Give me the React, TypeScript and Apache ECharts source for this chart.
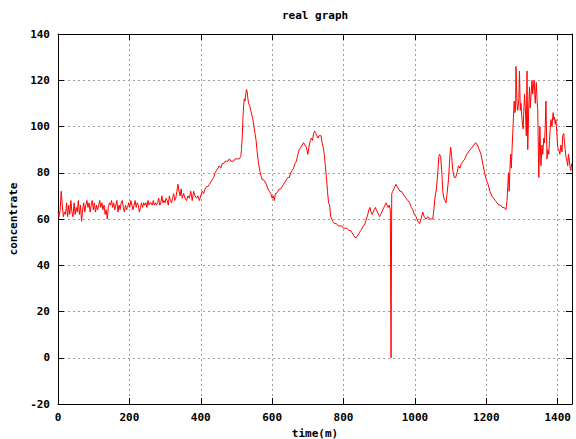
import React, { useEffect, useRef } from "react";
import * as echarts from "echarts";

// [minute, concentration] readings, split by part of the day
const nightReadings: [number, number][] = [
  [0, 63], [3, 61], [6, 64], [9, 72], [12, 66], [15, 61], [18, 63], [21, 62], [24, 67], [27, 61],
  [30, 66], [33, 62], [36, 68], [39, 63], [42, 61], [45, 67], [48, 62], [51, 65], [54, 63], [57, 68],
  [60, 62], [63, 66], [66, 59], [69, 64], [72, 67], [75, 63], [78, 66], [81, 68], [84, 65], [87, 67],
  [90, 63], [93, 66], [96, 68], [99, 64], [102, 67], [105, 63], [108, 66], [111, 64], [114, 66], [117, 68],
  [120, 65], [123, 67], [126, 64], [129, 66], [132, 62], [135, 64], [138, 60], [141, 65], [144, 67], [147, 66],
  [150, 68], [153, 65], [156, 67], [159, 64], [162, 66], [165, 68], [168, 63], [171, 66], [174, 64], [177, 67],
  [180, 68], [183, 65], [186, 63], [189, 66], [192, 64], [195, 65], [198, 67], [201, 65], [204, 68], [207, 66],
  [210, 64], [213, 66], [216, 68], [219, 65], [222, 67], [225, 66], [228, 63], [231, 65], [234, 67], [237, 65],
  [240, 67], [243, 66], [246, 67], [249, 65], [252, 68], [255, 66], [258, 67], [261, 67], [264, 66], [267, 68],
  [270, 66], [273, 67], [276, 66], [279, 67], [282, 69], [285, 66], [288, 67], [291, 70], [294, 67], [297, 68],
  [300, 67], [303, 69], [306, 68], [309, 66], [312, 70], [315, 68], [318, 67], [321, 69], [324, 71], [327, 68],
  [330, 69], [333, 72], [336, 75], [339, 72], [342, 70], [345, 73],
];

const morningReadings: [number, number][] = [
  [348, 69], [352, 71], [356, 69], [360, 68], [364, 70], [368, 69], [372, 72], [376, 68], [380, 72], [384, 70],
  [388, 69], [392, 70], [396, 68], [400, 70], [404, 72], [408, 71], [412, 73], [416, 74], [420, 74], [424, 75],
  [428, 76], [432, 77], [436, 78], [440, 80], [444, 81], [448, 82], [452, 83], [456, 82], [460, 84], [464, 84],
  [468, 85], [472, 85], [476, 85], [480, 86], [484, 85], [488, 85], [492, 85], [496, 86], [500, 86], [504, 86],
  [508, 86], [512, 87], [514, 90], [516, 95], [518, 103], [520, 109], [522, 112], [524, 111], [526, 114], [528, 116],
  [530, 115], [532, 112], [534, 110], [537, 109], [540, 107], [543, 105], [546, 103], [549, 100], [552, 97], [555, 94],
  [558, 89], [561, 85], [564, 82], [568, 79], [572, 77], [576, 77], [580, 76], [584, 75], [588, 73], [592, 72],
  [596, 71], [600, 69], [603, 70], [606, 68], [609, 71], [612, 71], [616, 72], [620, 73], [624, 73], [628, 74],
  [632, 75], [636, 76], [640, 77], [644, 78], [648, 78], [652, 80], [656, 81], [660, 82], [664, 84], [668, 85],
  [672, 88], [676, 90], [680, 91], [684, 92], [688, 93], [692, 92], [696, 91], [700, 88], [704, 92], [707, 94],
  [710, 95], [713, 94], [716, 97], [719, 98], [722, 97], [725, 96], [728, 95], [731, 96], [734, 96], [737, 96],
  [740, 93], [743, 91], [746, 88], [749, 83], [752, 78], [755, 72], [758, 67], [761, 66], [764, 61], [767, 60],
  [770, 59], [775, 58], [780, 58], [785, 57], [790, 57], [795, 57], [800, 56], [805, 56], [810, 56], [815, 55],
];

const afternoonReadings: [number, number][] = [
  [820, 55], [824, 54], [828, 53], [832, 52], [836, 52], [840, 53], [844, 54], [848, 55], [852, 56], [856, 57],
  [860, 58], [864, 60], [868, 62], [871, 64], [874, 65], [877, 63], [880, 62], [883, 63], [886, 64], [889, 65],
  [892, 64], [895, 63], [898, 62], [901, 61], [904, 62], [907, 63], [910, 64], [913, 65], [916, 66], [919, 67],
  [922, 66], [925, 65], [928, 66], [931, 64], [933, 0], [935, 71], [938, 72], [941, 73], [944, 74], [947, 75],
  [950, 74], [954, 73], [958, 72], [962, 72], [966, 71], [970, 70], [975, 69], [980, 68], [985, 67], [990, 65],
  [994, 64], [998, 62], [1003, 61], [1008, 59], [1013, 58], [1017, 60], [1022, 63], [1026, 61], [1031, 60], [1036, 61],
  [1041, 60], [1045, 60], [1050, 60], [1053, 64], [1056, 69], [1060, 73], [1064, 80], [1067, 87], [1069, 88], [1072, 87],
  [1075, 81], [1078, 72], [1081, 69], [1084, 68], [1087, 67], [1090, 71], [1094, 77], [1097, 85], [1100, 91], [1103, 87],
  [1106, 81], [1110, 78], [1114, 78], [1118, 80], [1122, 83], [1126, 82], [1130, 84], [1135, 85], [1140, 86], [1145, 88],
  [1150, 89], [1155, 90], [1160, 91], [1165, 92], [1170, 93], [1175, 92], [1180, 90], [1185, 88], [1190, 84], [1195, 80],
  [1200, 77], [1205, 75], [1210, 72], [1215, 70], [1220, 69], [1225, 68], [1230, 67], [1235, 66], [1240, 66], [1245, 65],
  [1250, 65], [1255, 64],
];

const eveningReadings: [number, number][] = [
  [1258, 68], [1260, 74], [1262, 80], [1264, 72], [1266, 81], [1268, 88], [1270, 82], [1272, 90], [1274, 97], [1276, 104],
  [1278, 111], [1280, 106], [1282, 107], [1283, 126], [1286, 110], [1288, 107], [1291, 112], [1293, 124], [1295, 107], [1297, 110],
  [1300, 103], [1303, 99], [1307, 114], [1310, 105], [1312, 96], [1314, 124], [1316, 90], [1319, 109], [1321, 117], [1323, 108],
  [1325, 113], [1328, 120], [1330, 114], [1332, 118], [1334, 120], [1337, 110], [1340, 119], [1342, 112], [1344, 107], [1347, 78],
  [1350, 100], [1353, 83], [1356, 92], [1358, 88], [1361, 95], [1363, 93], [1365, 100], [1367, 111], [1370, 86], [1372, 90],
  [1375, 88], [1377, 94], [1379, 99], [1381, 103], [1384, 100], [1387, 106], [1389, 103], [1391, 104], [1393, 101], [1395, 103],
  [1398, 96], [1400, 91], [1403, 90], [1406, 88], [1409, 92], [1412, 89], [1414, 96], [1417, 97], [1419, 93], [1421, 90],
  [1423, 87], [1426, 85], [1428, 83], [1430, 88], [1432, 86], [1435, 82], [1437, 81], [1439, 84],
];

const xTickValues = [0, 200, 400, 600, 800, 1000, 1200, 1400];
const yTickLabels = ["-20", "0", "20", "40", "60", "80", "100", "120", "140"];

const FONT = "'DejaVu Sans Mono', monospace";
const textBase = { fontFamily: FONT, fontWeight: "bold" as const, fontSize: 11, color: "#000" };

export default function App() {
  const ref = useRef<HTMLDivElement>(null);
  useEffect(() => {
    if (!ref.current) return;
    const chart = echarts.init(ref.current, null, { renderer: "svg" });
    const data = [...nightReadings, ...morningReadings, ...afternoonReadings, ...eveningReadings];
    const gridLine = { show: true, lineStyle: { color: "#a0a0a0", width: 1, type: [2, 3] } };
    const border = { show: true, onZero: false, lineStyle: { color: "#000", width: 1 } };
    const tick = { show: true, inside: true, length: 6, lineStyle: { color: "#000", width: 1 } };
    chart.setOption({
      animation: false,
      backgroundColor: "#fff",
      title: {
        text: "real graph",
        left: 277,
        top: 5,
        textStyle: { ...textBase },
      },
      grid: { left: 58, right: 4, top: 34, bottom: 35, containLabel: false, outerBoundsMode: "none" },
      xAxis: [
        {
          type: "value",
          position: "bottom",
          min: 0,
          max: 1440,
          interval: 200,
          axisLine: border,
          axisTick: tick,
          splitLine: gridLine,
          axisLabel: {
            ...textBase,
            margin: 8,
            showMaxLabel: true,
            formatter: (v: number) => (xTickValues.includes(v) ? String(v) : ""),
          },
          name: "time(m)",
          nameLocation: "middle",
          nameGap: 22,
          nameTextStyle: { ...textBase },
        },
        {
          type: "value",
          position: "top",
          min: 0,
          max: 1440,
          interval: 200,
          axisLine: border,
          axisTick: tick,
          splitLine: { show: false },
          axisLabel: { show: false },
        },
      ],
      yAxis: [
        {
          type: "value",
          position: "left",
          min: -20,
          max: 140,
          interval: 20,
          axisLine: border,
          axisTick: tick,
          splitLine: gridLine,
          axisLabel: {
            ...textBase,
            margin: 8,
            formatter: (v: number) => (yTickLabels.includes(String(v)) ? String(v) : ""),
          },
          name: "concentrate",
          nameLocation: "middle",
          nameGap: 38,
          nameRotate: 90,
          nameTextStyle: { ...textBase },
        },
        {
          type: "value",
          position: "right",
          min: -20,
          max: 140,
          interval: 20,
          axisLine: border,
          axisTick: tick,
          splitLine: { show: false },
          axisLabel: { show: false },
        },
      ],
      series: [
        {
          type: "line",
          xAxisIndex: 0,
          yAxisIndex: 0,
          data,
          showSymbol: false,
          symbol: "none",
          lineStyle: { color: "#ff0000", width: 1 },
        },
      ],
    });
    return () => chart.dispose();
  }, []);
  return (
    <div
      ref={ref}
      style={{ position: "fixed", left: 0, top: 0, width: 576, height: 439, background: "#fff" }}
    />
  );
}
